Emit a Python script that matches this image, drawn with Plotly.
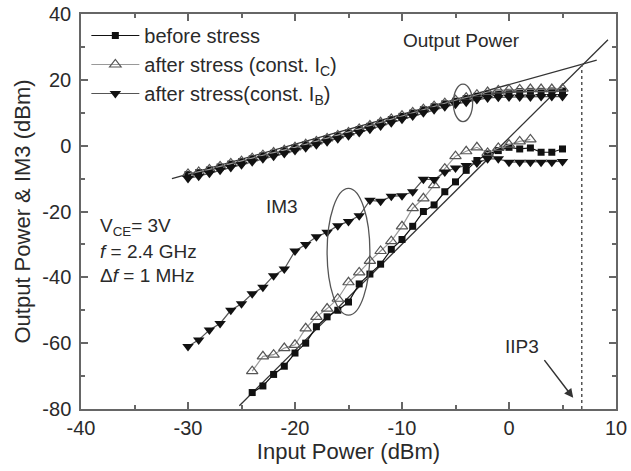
import plotly.graph_objects as go

# ---------------- data ----------------
x_fund = list(range(-30, 6))
fund_before = [-8.8, -8.2, -7.4, -6.5, -5.6, -4.9, -4.0, -3.1, -2.3, -1.6,
               -0.7, 0.2, 1.1, 2.0, 2.9, 3.8, 4.9, 5.9, 6.9, 7.9,
               8.9, 9.9, 10.9, 11.8, 12.7, 13.5, 14.3, 15.0, 15.6, 16.0,
               16.2, 16.4, 16.5, 16.5, 16.6, 16.6]
fund_ic = [-8.6, -8.0, -7.2, -6.3, -5.4, -4.7, -3.8, -2.9, -2.1, -1.4,
           -0.5, 0.4, 1.3, 2.2, 3.1, 4.0, 5.1, 6.1, 7.1, 8.1,
           9.1, 10.1, 11.1, 12.0, 12.9, 13.8, 14.6, 15.5, 16.3, 16.8,
           17.0, 17.1, 17.2, 17.2, 17.2, 17.3]
fund_ib = [-10.0, -9.3, -8.4, -7.5, -6.6, -5.8, -4.9, -4.0, -3.2, -2.4,
           -1.5, -0.6, 0.3, 1.2, 2.1, 3.0, 4.0, 5.0, 6.0, 7.0,
           8.0, 9.0, 10.0, 10.9, 11.8, 12.6, 13.2, 14.0, 14.5, 14.7,
           14.8, 14.8, 14.8, 14.9, 14.9, 14.9]

x_im3_before = list(range(-24, 6))
im3_before = [-75, -73, -69.5, -67, -63, -60, -55, -52, -50, -47.5,
              -42, -39, -36, -31.5, -28.5, -24.5, -20, -18, -14, -11,
              -7.5, -4.5, -2.5, -1.5, -0.5, -1, -0.7, -2, -2, -1]
x_im3_ic = list(range(-24, 3))
im3_ic = [-68.5, -64, -63.5, -61.5, -60.5, -55.5, -52, -49.5, -46.5, -41.5,
          -38.5, -35, -32, -29, -24.5, -19, -16, -12, -7, -3.2,
          -1.7, -0.5, -2.2, -0.7, 0.3, 1.3, 1.9]
x_im3_ib = list(range(-30, 6))
im3_ib = [-61, -59, -56, -54, -50, -48, -45, -43, -39.5, -37.5,
          -32, -30, -27.7, -26.3, -24.3, -23, -21.3, -16.6, -16.9, -15.4,
          -15.2, -14, -10.2, -10.3, -8, -6.8, -6, -5.3, -4, -4,
          -5, -5, -5, -5, -5, -4.8]

fit_fund_x = [-31.5, 8.2]
fit_fund_y = [-10.0, 26.0]
fit_im3_x = [-25.2, 9.25]
fit_im3_y = [-79.0, 32.2]
iip3_x = 6.8
iip3_y = 24.8

x_tickvals = [-40, -30, -20, -10, 0, 10]
x_ticktext = ["-40", "-30", "-20", "-10", "0", "10"]
y_tickvals = [-80, -60, -40, -20, 0, 20, 40]
y_ticktext = ["-80", "-60", "-40", "-20", "0", "20", "40"]

series_names = ["before stress",
                "after stress (const. I<sub>C</sub>)",
                "after stress(const. I<sub>B</sub>)"]

FONT = "Liberation Sans, Arial, sans-serif"
TXT = "#2a2a2a"

fig = go.Figure()

# fit lines
fig.add_trace(go.Scatter(x=fit_fund_x, y=fit_fund_y, mode="lines",
                         line=dict(color="#333", width=1.3), showlegend=False, hoverinfo="skip"))
fig.add_trace(go.Scatter(x=fit_im3_x, y=fit_im3_y, mode="lines",
                         line=dict(color="#333", width=1.3), showlegend=False, hoverinfo="skip"))

styles = [
    dict(line=dict(color="#111", width=1.2),
         marker=dict(symbol="square", size=7, color="#111")),
    dict(line=dict(color="#999", width=1.2),
         marker=dict(symbol="triangle-up-open", size=10, color="#555", line=dict(width=1.2))),
    dict(line=dict(color="#555", width=1.2),
         marker=dict(symbol="triangle-down", size=10, color="#111")),
]

fund_sets = [(x_fund, fund_before), (x_fund, fund_ic), (x_fund, fund_ib)]
im3_sets = [(x_im3_before, im3_before), (x_im3_ic, im3_ic), (x_im3_ib, im3_ib)]

for i, name in enumerate(series_names):
    fx, fy = fund_sets[i]
    ix, iy = im3_sets[i]
    fig.add_trace(go.Scatter(x=fx, y=fy, mode="lines+markers", name=name,
                             showlegend=True, **styles[i]))
    fig.add_trace(go.Scatter(x=ix, y=iy, mode="lines+markers", name=name,
                             showlegend=False, **styles[i]))

# ellipses
fig.add_shape(type="circle", xref="x", yref="y", x0=-5.2, x1=-3.4, y0=7.3, y1=18.7,
              line=dict(color="#555", width=1.3))
fig.add_shape(type="circle", xref="x", yref="y", x0=-17.0, x1=-13.0, y0=-51.5, y1=-13.0,
              line=dict(color="#555", width=1.3))
# IIP3 dotted line
fig.add_shape(type="line", xref="x", yref="y", x0=iip3_x, x1=iip3_x, y0=-80, y1=iip3_y,
              line=dict(color="#555", width=1.5, dash="dot"))

ann_font = dict(family=FONT, size=19, color=TXT)
fig.add_annotation(x=-4.4, y=32, text="Output Power", showarrow=False, font=ann_font)
fig.add_annotation(x=-21.2, y=-18.5, text="IM3", showarrow=False, font=ann_font)
fig.add_annotation(x=1.2, y=-61, text="IIP3", showarrow=False, font=ann_font)
fig.add_annotation(x=6.0, y=-76.6, ax=3.2, ay=-64.7, axref="x", ayref="y", xref="x", yref="y",
                   text="", showarrow=True, arrowhead=2, arrowsize=1.2, arrowwidth=1.5,
                   arrowcolor="#333")
fig.add_annotation(x=-38.4, y=-24.6, xanchor="left", text="V<sub>CE</sub>= 3V",
                   showarrow=False, font=ann_font)
fig.add_annotation(x=-38.4, y=-32.0, xanchor="left", text="<i>f</i> = 2.4 GHz",
                   showarrow=False, font=ann_font)
fig.add_annotation(x=-38.4, y=-39.5, xanchor="left", text="Δ<i>f</i> = 1 MHz",
                   showarrow=False, font=ann_font)

axis_common = dict(showline=True, linecolor="#666", linewidth=1.5, mirror="ticks",
                   ticks="inside", ticklen=7, tickcolor="#666", tickwidth=1.5,
                   showgrid=False, zeroline=False,
                   tickfont=dict(family=FONT, size=20, color=TXT))

fig.update_xaxes(range=[-40, 10], tickvals=x_tickvals, ticktext=x_ticktext,
                 minor=dict(ticks="inside", ticklen=4, dtick=5, tick0=-40, tickcolor="#666", showgrid=False),
                 title=dict(text="Input Power (dBm)", font=dict(family=FONT, size=22, color=TXT),
                            standoff=4),
                 **axis_common)
fig.update_yaxes(range=[-80, 40], tickvals=y_tickvals, ticktext=y_ticktext,
                 minor=dict(ticks="inside", ticklen=4, dtick=10, tick0=-80, tickcolor="#666", showgrid=False),
                 title=dict(text="Output Power & IM3 (dBm)", font=dict(family=FONT, size=22, color=TXT),
                            standoff=6),
                 ticklabelstandoff=4,
                 **axis_common)

fig.update_layout(
    width=631, height=471,
    margin=dict(l=81, r=15, t=14, b=62, autoexpand=False),
    plot_bgcolor="white", paper_bgcolor="white",
    font=dict(family=FONT, color=TXT),
    legend=dict(x=0.01, y=0.995, xanchor="left", yanchor="top",
                bgcolor="rgba(0,0,0,0)", font=dict(family=FONT, size=20, color=TXT),
                itemwidth=48, tracegroupgap=0),
    showlegend=True,
)

fig.write_html("out.html")
